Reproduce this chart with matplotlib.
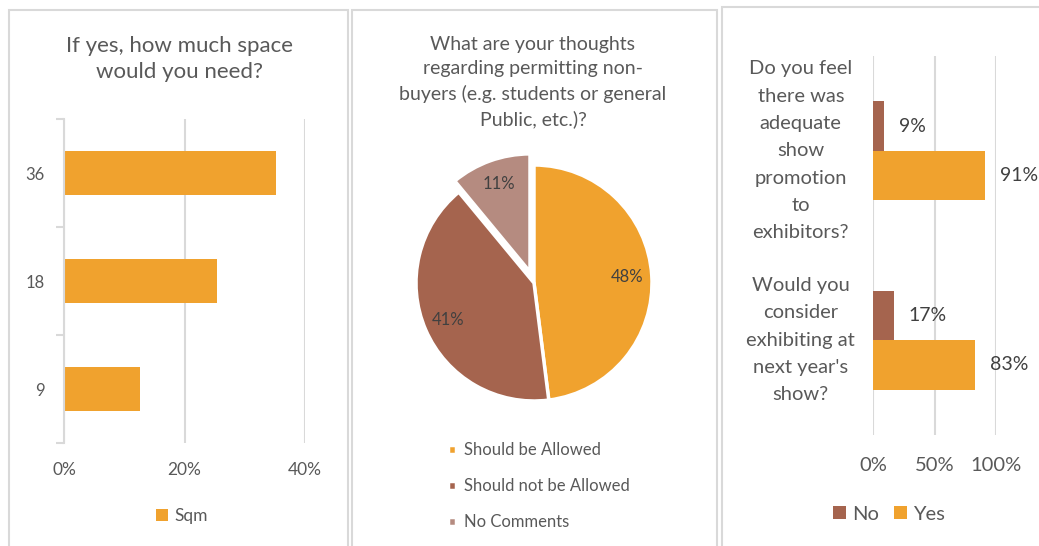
import numpy as np
import matplotlib
matplotlib.use('Agg')
import matplotlib.pyplot as plt
from matplotlib.patches import Rectangle

plt.rcParams['font.family'] = ['Lato', 'DejaVu Sans']

# space needed (share of respondents)
space_cats = ['9', '18', '36']
space_vals = [12.6, 25.4, 35.2]

# non-buyer access
pie_labels = ['Should be Allowed', 'Should not be Allowed', 'No Comments']
pie_vals = [48, 41, 11]

# yes / no questions (bottom to top)
yn_cats = ["Would you\nconsider\nexhibiting at\nnext year's\nshow?",
           "Do you feel\nthere was\nadequate\nshow\npromotion\nto\nexhibitors?"]
yn_no = [17, 9]
yn_yes = [83, 91]

ORANGE, BROWN, MAUVE = '#F0A22E', '#A5644E', '#B58B80'
TXT, DARK, GRID = '#595959', '#404040', '#D9D9D9'

W, H = 1039, 546
fig = plt.figure(figsize=(W/100, H/100), dpi=100)

def box(x0, y0, x1, y1):
    return [x0/W, 1-y1/H, (x1-x0)/W, (y1-y0)/H]

# panel frames
for x0, y0, x1 in [(9, 10, 348), (352, 10, 717), (722, 7, 1045)]:
    fig.patches.append(Rectangle((x0/W, -0.05), (x1-x0)/W, 1.05-y0/H,
                                 transform=fig.transFigure, fill=False,
                                 ec=GRID, lw=1.5))

# ---- left: space needed
ax1 = fig.add_axes(box(64, 119, 305, 443))
y = np.arange(len(space_cats))
bars = ax1.barh(y, np.array(space_vals)/100, height=0.4, color=ORANGE, label='Sqm')
ax1.set_xlim(0, 0.4); ax1.set_ylim(-0.5, 2.5)
ax1.set_xticks([0, 0.2, 0.4]); ax1.set_xticklabels(['0%', '20%', '40%'])
ax1.set_yticks([-0.5, 0.5, 1.5, 2.5]); ax1.set_yticklabels([])
ax1.set_yticks(y, minor=True); ax1.set_yticklabels(space_cats, minor=True)
ax1.tick_params(axis='y', which='major', length=6, color=GRID, width=1.5)
ax1.tick_params(axis='y', which='minor', length=0, pad=14, labelsize=12, labelcolor=TXT)
ax1.tick_params(axis='x', length=0, pad=14, labelsize=12.5, labelcolor=TXT)
ax1.grid(axis='x', color=GRID, lw=1.5); ax1.set_axisbelow(True)
for s in ['top', 'right', 'bottom']:
    ax1.spines[s].set_visible(False)
ax1.spines['left'].set_color(GRID); ax1.spines['left'].set_linewidth(1.5)
fig.text(179/W, 1-59/H, 'If yes, how much space\nwould you need?', ha='center', va='center',
         fontsize=16, color=TXT, linespacing=1.38)
fig.legend(handles=[bars], loc='center', bbox_to_anchor=(182/W, 1-516/H), frameon=False,
           fontsize=12.5, labelcolor=TXT, handlelength=0.7, handleheight=0.7, handletextpad=0.4)

# ---- middle: pie
ax2 = fig.add_axes(box(534-118, 283-118, 534+118, 283+118))
wedges, _, autotexts = ax2.pie(pie_vals, colors=[ORANGE, BROWN, MAUVE], startangle=90,
                               counterclock=False, explode=[0, 0, 0.1],
                               autopct=lambda p: f'{p:.0f}%', pctdistance=0.79,
                               wedgeprops=dict(ec='white', lw=2.5),
                               textprops=dict(color=DARK, fontsize=12))
ax2.set_xlim(-1, 1); ax2.set_ylim(-1, 1); ax2.set_aspect('equal')
for w in wedges:
    w.set_clip_on(False)
fig.text(533/W, 1-82/H, 'What are your thoughts\nregarding permitting non-\nbuyers (e.g. students or general\nPublic, etc.)?',
         ha='center', va='center', fontsize=14, color=TXT, linespacing=1.5)
fig.legend(handles=wedges, labels=pie_labels, loc='upper left',
           bbox_to_anchor=(433/W, 1-427/H), frameon=False, fontsize=12, labelcolor=TXT,
           handlelength=0.45, handleheight=0.45, handletextpad=0.5, labelspacing=1.2)

# ---- right: yes / no
ax3 = fig.add_axes(box(873, 56, 996, 435))
yy = np.arange(len(yn_cats))
h = 0.26
b_no = ax3.barh(yy + h/2, np.array(yn_no)/100, height=h, color=BROWN, label='No')
b_yes = ax3.barh(yy - h/2, np.array(yn_yes)/100, height=h, color=ORANGE, label='Yes')
for rects, vals in [(b_no, yn_no), (b_yes, yn_yes)]:
    for r, v in zip(rects, vals):
        ax3.annotate(f'{v}%', (r.get_width(), r.get_y() + r.get_height()/2),
                     xytext=(15, 0), textcoords='offset pixels', ha='left', va='center',
                     fontsize=14, color=DARK, annotation_clip=False)
ax3.set_xlim(0, 1); ax3.set_ylim(-0.5, 1.5)
ax3.set_xticks([0, 0.5, 1]); ax3.set_xticklabels(['0%', '50%', '100%'])
ax3.set_yticks(yy)
ax3.set_yticklabels(yn_cats, ha='center', va='center', ma='center', linespacing=1.74)
ax3.tick_params(axis='y', length=0, pad=52, labelsize=14.5, labelcolor=TXT)
ax3.tick_params(axis='x', length=0, pad=16, labelsize=14.5, labelcolor=TXT)
ax3.grid(axis='x', color=GRID, lw=1.5); ax3.set_axisbelow(True)
for s in ax3.spines.values():
    s.set_visible(False)
fig.legend(handles=[b_no, b_yes], loc='center', bbox_to_anchor=(889/W, 1-514/H), ncol=2,
           frameon=False, fontsize=14.5, labelcolor=TXT, handlelength=0.65, handleheight=0.65,
           handletextpad=0.3, columnspacing=0.75)

fig.savefig('out.png', dpi=100)
